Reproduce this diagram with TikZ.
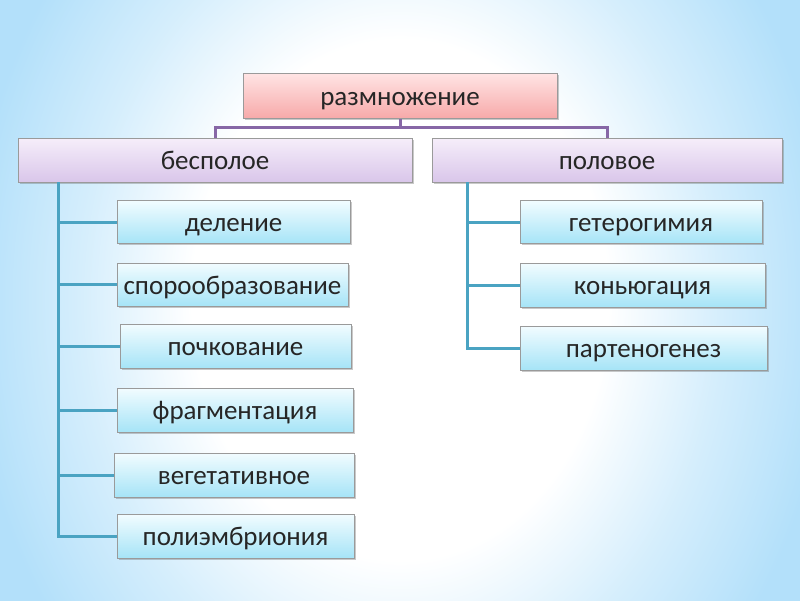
\documentclass[tikz,border=0pt]{standalone}
\usepackage{fontspec}
\setmainfont{Carlito}
\usetikzlibrary{shadows}
\definecolor{pinkT}{HTML}{FFE4E4}
\definecolor{pinkB}{HTML}{F7A9A9}
\definecolor{purT}{HTML}{F6EEFA}
\definecolor{purB}{HTML}{D9C6EA}
\definecolor{cyT}{HTML}{F2FCFF}
\definecolor{cyB}{HTML}{A6E4F7}
\definecolor{edge}{HTML}{9A9A9A}
\definecolor{purline}{HTML}{8767A6}
\definecolor{tealline}{HTML}{4AA3C2}
\definecolor{bgB}{HTML}{B3E0FA}
\definecolor{txt}{HTML}{262626}
\pgfdeclareradialshading{bgshade}{\pgfpoint{0bp}{0bp}}{color(0bp)=(white); color(13bp)=(white); color(20bp)=(bgB!55); color(27bp)=(bgB); color(50bp)=(bgB)}
\tikzset{
  box/.style={draw=edge, line width=0.8pt, text=txt, font=\fontsize{27}{30}\selectfont,
     text height=20pt, text depth=0.5pt,
     drop shadow={shadow xshift=1.5pt, shadow yshift=-1.5pt, opacity=0.35, fill=black!60}},
  lvl1/.style={box, top color=pinkT, bottom color=pinkB},
  lvl2/.style={box, top color=purT, bottom color=purB},
  lvl3/.style={box, top color=cyT, bottom color=cyB},
  pl/.style={draw=purline, line width=3pt},
  tl/.style={draw=tealline, line width=3pt},
}
\begin{document}
\begin{tikzpicture}[x=1pt,y=-1pt]
\useasboundingbox (0,0) rectangle (800,600);
\begin{scope}
\clip (0,0) rectangle (800,600);
\shade[shading=bgshade] (0,-200) rectangle (800,800);
\end{scope}
% top
\node[lvl1, minimum width=314pt, minimum height=45pt] (root) at (400,96) {размножение};
\node[lvl2, minimum width=394pt, minimum height=44pt] (bes) at (215,160) {бесполое};
\node[lvl2, minimum width=350pt, minimum height=44pt] (pol) at (607,160) {половое};
% left children
\node[lvl3, minimum width=233pt, minimum height=43pt] (a1) at (233.5,222) {деление};
\node[lvl3, minimum width=231pt, minimum height=43pt] (a2) at (232.5,284.5) {спорообразование};
\node[lvl3, minimum width=231pt, minimum height=44pt] (a3) at (235.5,346) {почкование};
\node[lvl3, minimum width=236pt, minimum height=44pt] (a4) at (235,410) {фрагментация};
\node[lvl3, minimum width=240pt, minimum height=44pt] (a5) at (234,475) {вегетативное};
\node[lvl3, minimum width=237pt, minimum height=44pt] (a6) at (235.5,536) {полиэмбриония};
% right children
\node[lvl3, minimum width=242pt, minimum height=43pt] (b1) at (641,222) {гетерогимия};
\node[lvl3, minimum width=245pt, minimum height=44pt] (b2) at (642.5,285) {коньюгация};
\node[lvl3, minimum width=247pt, minimum height=44pt] (b3) at (643.5,348) {партеногенез};
% connectors
\coordinate (rj) at (400,127);
\draw[pl] (root.south) -- (rj);
\draw[pl] (rj) -| (bes.north);
\draw[pl] (rj) -| (pol.north);
\coordinate (lt) at (58,182);
\coordinate (rt) at (467,182);
\draw[tl] (lt) |- (a6.west);
\foreach \n in {a1,a2,a3,a4,a5} \draw[tl] (lt |- \n.west) -- (\n.west);
\draw[tl] (rt) |- (b3.west);
\foreach \n in {b1,b2} \draw[tl] (rt |- \n.west) -- (\n.west);
\end{tikzpicture}
\end{document}
